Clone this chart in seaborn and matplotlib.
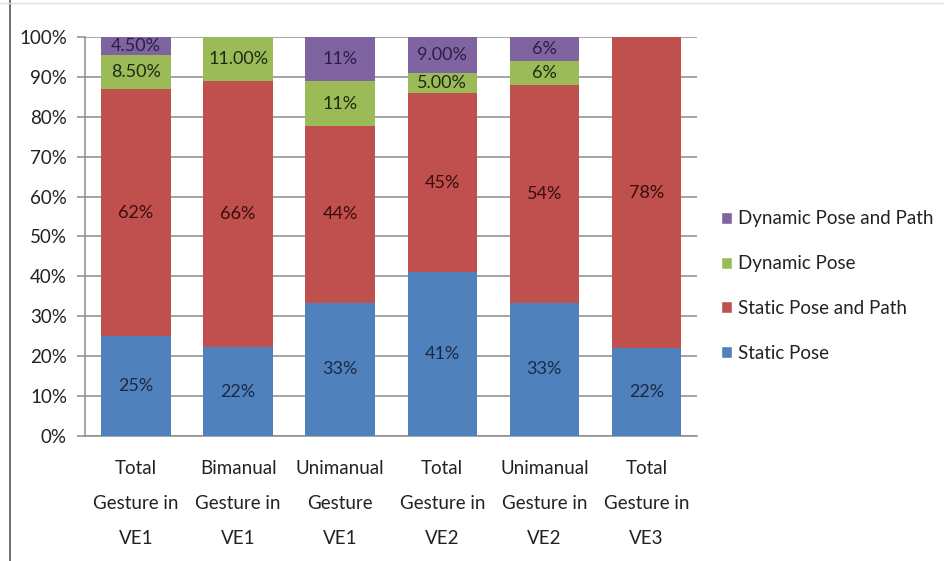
import matplotlib
matplotlib.use('Agg')
import matplotlib.pyplot as plt
import numpy as np
import pandas as pd
import seaborn as sns
from matplotlib.patches import Patch
from matplotlib.lines import Line2D

categories = ['Total\nGesture in\nVE1', 'Bimanual\nGesture in\nVE1', 'Unimanual\nGesture\nVE1',
              'Total\nGesture in\nVE2', 'Unimanual\nGesture in\nVE2', 'Total\nGesture in\nVE3']
series = ['Static Pose', 'Static Pose and Path', 'Dynamic Pose', 'Dynamic Pose and Path']
static_pose = [25, 22, 33, 41, 33, 22]
static_path = [62, 66, 44, 45, 54, 78]
dynamic_pose = [8.5, 11, 11, 5, 6, 0]
dynamic_path = [4.5, 0, 11, 9, 6, 0]
labels_static_pose = ['25%', '22%', '33%', '41%', '33%', '22%']
labels_static_path = ['62%', '66%', '44%', '45%', '54%', '78%']
labels_dynamic_pose = ['8.50%', '11.00%', '11%', '5.00%', '6%', '']
labels_dynamic_path = ['4.50%', '', '11%', '9.00%', '6%', '']

colors = ['#4F81BD', '#C0504D', '#9BBB59', '#8064A2']
text_colors = ['#1b2a44', '#3a0c0c', '#1f2a10', '#2a1f42']

sns.set_style('white')
plt.rcParams['font.family'] = ['Lato', 'DejaVu Sans']

# 100% stacked: normalise each column to its total
vals = np.array([static_pose, static_path, dynamic_pose, dynamic_path], dtype=float)
vals = vals / vals.sum(axis=0) * 100
cum = vals.cumsum(axis=0)
df = pd.DataFrame({'category': categories})
for i, s in enumerate(series):
    df[s] = cum[i]

fig = plt.figure(figsize=(9.45, 5.61), dpi=100)
ax = fig.add_axes([0.09, 0.223, 0.648, 0.711])

# draw cumulative bars from the top series down so they overlap into stacks
for i in range(len(series) - 1, -1, -1):
    sns.barplot(data=df, x='category', y=series[i], color=colors[i], width=0.68,
                saturation=1, linewidth=0, edgecolor='none', ax=ax, zorder=3)

all_labels = [labels_static_pose, labels_static_path, labels_dynamic_pose, labels_dynamic_path]
for i in range(len(series)):
    for j in range(len(categories)):
        if all_labels[i][j]:
            mid = cum[i][j] - vals[i][j] / 2
            ax.text(j, mid, all_labels[i][j], ha='center', va='center',
                    fontsize=13, color=text_colors[i], zorder=5)

ax.set_ylim(0, 100)
ax.set_xlim(-0.5, len(categories) - 0.5)
ax.set_yticks(np.arange(0, 101, 10))
ax.set_yticklabels([f'{v}%' for v in range(0, 101, 10)], fontsize=13.5, color='#222222')
ax.yaxis.grid(True, color='#8c8c8c', lw=1.1, zorder=0)
ax.set_axisbelow(True)
ax.set_xlabel('')
ax.set_ylabel('')

ax.set_xticks(np.arange(len(categories)))
ax.set_xticklabels(categories, fontsize=13.5, color='#222222', linespacing=2.3)
ax.tick_params(axis='x', length=0, pad=17)
ax.set_xticks(np.arange(len(categories) + 1) - 0.5, minor=True)
ax.tick_params(axis='x', which='minor', length=8, color='#8c8c8c', width=1.1)
ax.tick_params(axis='y', length=6, color='#8c8c8c', width=1.1, pad=7, left=True)

for side in ['top', 'right']:
    ax.spines[side].set_visible(False)
for side in ['left', 'bottom']:
    ax.spines[side].set_color('#8c8c8c')
    ax.spines[side].set_linewidth(1.1)

handles = [Patch(facecolor=colors[i], label=series[i]) for i in range(len(series) - 1, -1, -1)]
fig.legend(handles=handles, loc='center left', bbox_to_anchor=(0.745, 0.49), frameon=False,
           fontsize=13.5, handlelength=0.6, handleheight=0.6, handletextpad=0.3,
           labelspacing=1.48, labelcolor='#222222')

fig.add_artist(Line2D([0.011, 0.011], [0, 1], color='#555555', lw=1.2))
fig.add_artist(Line2D([0.0, 1.0], [0.995, 0.995], color='#dddddd', lw=1))

fig.savefig('out.png', dpi=100)
